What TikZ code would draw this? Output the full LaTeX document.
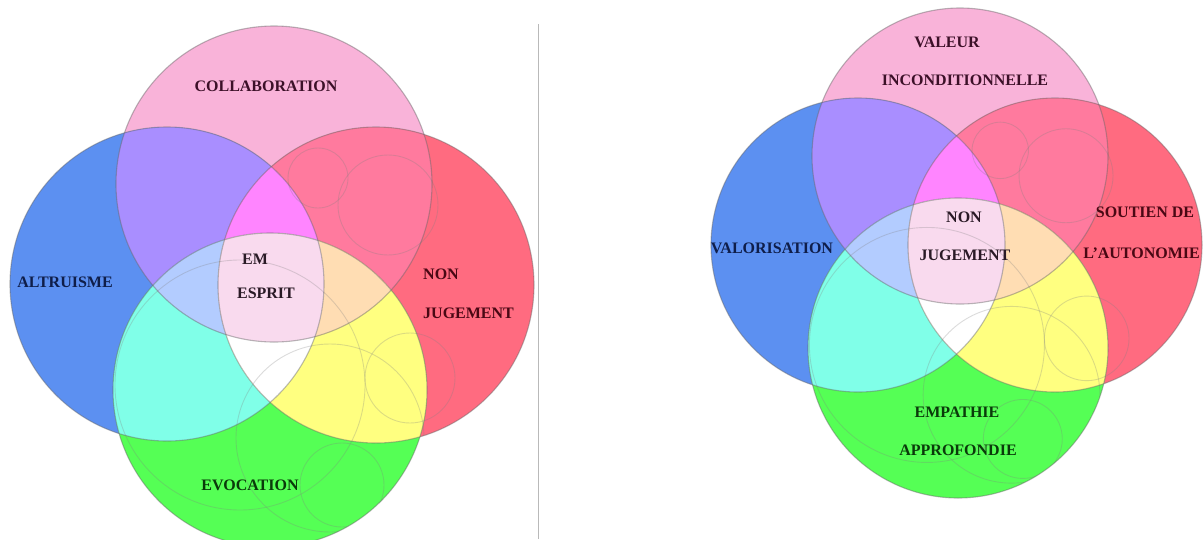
\documentclass[tikz,border=0pt]{standalone}
\usepackage{fontspec}
\setmainfont{Liberation Serif}
\definecolor{cP}{HTML}{F9B3D9}
\definecolor{cB}{HTML}{5C90F1}
\definecolor{cR}{HTML}{FF6B80}
\definecolor{cG}{HTML}{55FF55}
\definecolor{cPB}{HTML}{A98EFF}
\definecolor{cPR}{HTML}{FF7A9E}
\definecolor{cBG}{HTML}{80FFE8}
\definecolor{cRG}{HTML}{FFFF80}
\definecolor{cPBR}{HTML}{FF85FF}
\definecolor{cPBG}{HTML}{B3CCFF}
\definecolor{cPRG}{HTML}{FFDDB3}
\definecolor{cBRG}{HTML}{FFFFFF}
\definecolor{cAll}{HTML}{F9DAEE}
\definecolor{tP}{HTML}{3C1028}
\definecolor{tB}{HTML}{0F1E4A}
\definecolor{tR}{HTML}{4A0814}
\definecolor{tG}{HTML}{0A3A0A}
\definecolor{tC}{HTML}{2A1A26}
\newcommand\vennfour[8]{%
  \def\vP{(#1) circle[radius=#2pt]}%
  \def\vB{(#3) circle[radius=#4pt]}%
  \def\vR{(#5) circle[radius=#6pt]}%
  \def\vG{(#7) circle[radius=#8pt]}%
  \fill[cP]\vP; \fill[cB]\vB; \fill[cR]\vR; \fill[cG]\vG;
  \begin{scope}\clip\vP; \fill[cPB]\vB; \fill[cPR]\vR; \end{scope}
  \begin{scope}\clip\vG; \fill[cBG]\vB; \fill[cRG]\vR; \end{scope}
  \begin{scope}\clip\vP; \clip\vB; \fill[cPBR]\vR; \fill[cPBG]\vG; \end{scope}
  \begin{scope}\clip\vP; \clip\vR; \fill[cPRG]\vG; \end{scope}
  \begin{scope}\clip\vB; \clip\vR; \fill[cBRG]\vG; \end{scope}
  \begin{scope}\clip\vP; \clip\vB; \clip\vR; \fill[cAll]\vG; \end{scope}
}
\newcommand\outlines{\draw[outl]\vP; \draw[outl]\vB; \draw[outl]\vR; \draw[outl]\vG;}
\newcommand\faintset{%
  \draw[faint] (116,-79) circle[radius=50pt];
  \draw[faint] (46,-106) circle[radius=30pt];
  \draw[faint] (58,154) circle[radius=94pt];
  \draw[faint] (70,201) circle[radius=42pt];
  \draw[faint] (138,94) circle[radius=45pt];
  \draw[faint] (-32,101) circle[radius=125pt];
}
\begin{document}
\begin{tikzpicture}[x=1pt,y=-1pt,
  outl/.style={draw=gray!80!black,draw opacity=0.45,line width=1.1pt},
  faint/.style={draw=gray,draw opacity=0.28,line width=0.9pt},
  lab/.style={font=\bfseries\fontsize{16}{18}\selectfont,inner sep=0pt,anchor=center}]
\useasboundingbox (0,0) rectangle (1203,539);
\fill[white] (0,0) rectangle (1203,539);
% left diagram
\vennfour{274,184}{158}{167,284}{157}{376,285}{158}{270,390}{157}
\begin{scope}
  \clip \vP \vB \vR \vG;
  \begin{scope}[shift={(272,284)}]\faintset\end{scope}
\end{scope}
\outlines
% right diagram
\vennfour{960,156}{148}{858,245}{147}{1055,245}{147}{958,348}{150}
\begin{scope}
  \clip \vP \vB \vR \vG;
  \begin{scope}[shift={(957,250)},scale=0.94]\faintset\end{scope}
\end{scope}
\outlines
% separator
\coordinate (sepA) at (538,24);
\coordinate (sepB) at (538,539);
\draw[gray!55,line width=0.9pt] (sepA) -- (sepB);
% left labels
\node[lab,text=tP] (collab) at (266,86) {COLLABORATION};
\node[lab,text=tB] (altru) at (65,282) {ALTRUISME};
\node[lab,text=tC] (em) at (255,259) {EM};
\node[lab,text=tC] (esprit) at (266,293) {ESPRIT};
\node[lab,text=tR,anchor=west] (non1) at (423,274) {NON};
\node[lab,text=tR,anchor=west] (jug1) at (423,313) {JUGEMENT};
\node[lab,text=tG] (evoc) at (250,485) {EVOCATION};
% right labels
\node[lab,text=tP] (valeur) at (947,42) {VALEUR};
\node[lab,text=tP] (incond) at (965,80) {INCONDITIONNELLE};
\node[lab,text=tB] (valor) at (772,248) {VALORISATION};
\node[lab,text=tR] (soutien) at (1145,212) {SOUTIEN DE};
\node[lab,text=tR,anchor=east] (auto) at (1200,253) {L'AUTONOMIE};
\node[lab,text=tC] (non2) at (964,217) {NON};
\node[lab,text=tC] (jug2) at (965,255) {JUGEMENT};
\node[lab,text=tG] (empa) at (957,412) {EMPATHIE};
\node[lab,text=tG] (appro) at (958,450) {APPROFONDIE};
\end{tikzpicture}
\end{document}
